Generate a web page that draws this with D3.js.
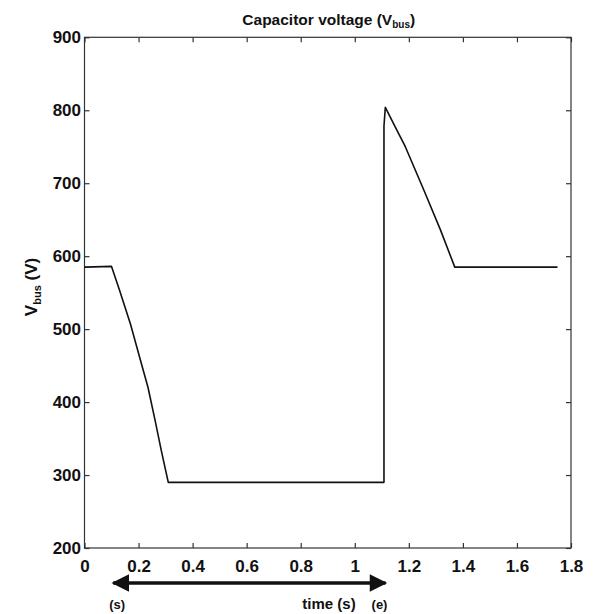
<!DOCTYPE html>
<html>
<head>
<meta charset="utf-8">
<script src="https://cdn.jsdelivr.net/npm/d3@7"></script>
<style>
  html, body { margin: 0; padding: 0; background: #fff; }
  text { font-family: "Liberation Sans", Arial, sans-serif; }
</style>
</head>
<body>
<svg id="chart" width="598" height="614"></svg>
<script>
// ---- data ----
const timeValues    = [0, 0.10, 0.13, 0.17, 0.205, 0.235, 0.26, 0.285, 0.31, 1.108, 1.108, 1.113, 1.15, 1.187, 1.255, 1.317, 1.37, 1.75];
const voltageValues = [585, 586, 553, 507, 460, 420, 377, 332, 290, 290, 778, 804, 777, 750, 691, 636, 585, 585];
const xTicks = [0, 0.2, 0.4, 0.6, 0.8, 1, 1.2, 1.4, 1.6, 1.8];
const yTicks = [200, 300, 400, 500, 600, 700, 800, 900];
const arrowRange = [0.11, 1.11];   // (s) to (e)

const svg = d3.select("#chart");
const L = 84.5, R = 571, T = 37.3, B = 548;

const x = d3.scaleLinear().domain([0, 1.8]).range([L, R]);
const y = d3.scaleLinear().domain([200, 900]).range([B, T]);

const axisColor = "#333";
const tickLen = 5;

// frame
svg.append("rect").attr("x", L).attr("y", T).attr("width", R - L).attr("height", B - T)
  .attr("fill", "none").attr("stroke", axisColor).attr("stroke-width", 1.2);

// axes (ticks inward on all four sides)
const gx = svg.append("g").attr("transform", `translate(0,${B})`)
  .call(d3.axisBottom(x).tickValues(xTicks).tickSizeInner(-tickLen).tickSizeOuter(0)
        .tickPadding(12).tickFormat(d => d3.format("")(+d.toFixed(1))));
const gxt = svg.append("g").attr("transform", `translate(0,${T})`)
  .call(d3.axisTop(x).tickValues(xTicks).tickSizeInner(-tickLen).tickSizeOuter(0).tickFormat(""));
const gy = svg.append("g").attr("transform", `translate(${L},0)`)
  .call(d3.axisLeft(y).tickValues(yTicks).tickSizeInner(-tickLen).tickSizeOuter(0).tickPadding(3.5));
const gyr = svg.append("g").attr("transform", `translate(${R},0)`)
  .call(d3.axisRight(y).tickValues(yTicks).tickSizeInner(-tickLen).tickSizeOuter(0).tickFormat(""));

[gx, gxt, gy, gyr].forEach(g => {
  g.select(".domain").remove();
  g.selectAll(".tick line").attr("stroke", axisColor).attr("stroke-width", 1.2);
  g.selectAll("text").attr("fill", "#111").attr("font-size", 17).attr("font-weight", "bold")
    .style("font-family", '"Liberation Sans", Arial, sans-serif');
});

// curve
const line = d3.line().x((d, i) => x(timeValues[i])).y((d, i) => y(voltageValues[i]));
svg.append("path").datum(voltageValues).attr("d", line)
  .attr("fill", "none").attr("stroke", "#111").attr("stroke-width", 1.6).attr("stroke-linejoin", "round");

// title
const title = svg.append("text").attr("x", (L + R) / 2 + 1).attr("y", 25).attr("text-anchor", "middle")
  .attr("font-size", 15.5).attr("font-weight", "bold").attr("fill", "#111");
title.append("tspan").text("Capacitor voltage (V");
title.append("tspan").attr("font-size", 10).attr("dy", 3).text("bus");
title.append("tspan").attr("dy", -3).text(")");

// y label
const yl = svg.append("text").attr("transform", `translate(37,287) rotate(-90)`)
  .attr("text-anchor", "middle").attr("font-size", 17).attr("font-weight", "bold").attr("fill", "#111");
yl.append("tspan").text("V");
yl.append("tspan").attr("font-size", 11).attr("dy", 4).text("bus");
yl.append("tspan").attr("dy", -4).text(" (V)");

// double-headed arrow below the axis
const ay = 583;
const defs = svg.append("defs");
defs.append("marker").attr("id", "ah").attr("viewBox", "0 0 10 10").attr("refX", 9).attr("refY", 5)
  .attr("markerWidth", 5.2).attr("markerHeight", 5).attr("orient", "auto-start-reverse").attr("markerUnits", "strokeWidth")
  .append("path").attr("d", "M0,0 L10,5 L0,10 z").attr("fill", "#111");
svg.append("line").attr("x1", x(arrowRange[0]) - 1).attr("x2", x(arrowRange[1]) + 1).attr("y1", ay).attr("y2", ay)
  .attr("stroke", "#111").attr("stroke-width", 3.5)
  .attr("marker-start", "url(#ah)").attr("marker-end", "url(#ah)");

svg.append("text").attr("x", x(arrowRange[0]) + 3).attr("y", 609).attr("text-anchor", "middle")
  .attr("font-size", 13).attr("font-weight", "bold").attr("fill", "#111").text("(s)");
svg.append("text").attr("x", x(arrowRange[1]) - 5).attr("y", 609).attr("text-anchor", "middle")
  .attr("font-size", 13).attr("font-weight", "bold").attr("fill", "#111").text("(e)");
svg.append("text").attr("x", 329).attr("y", 609).attr("text-anchor", "middle")
  .attr("font-size", 15).attr("font-weight", "bold").attr("fill", "#111").text("time (s)");
</script>
</body>
</html>
